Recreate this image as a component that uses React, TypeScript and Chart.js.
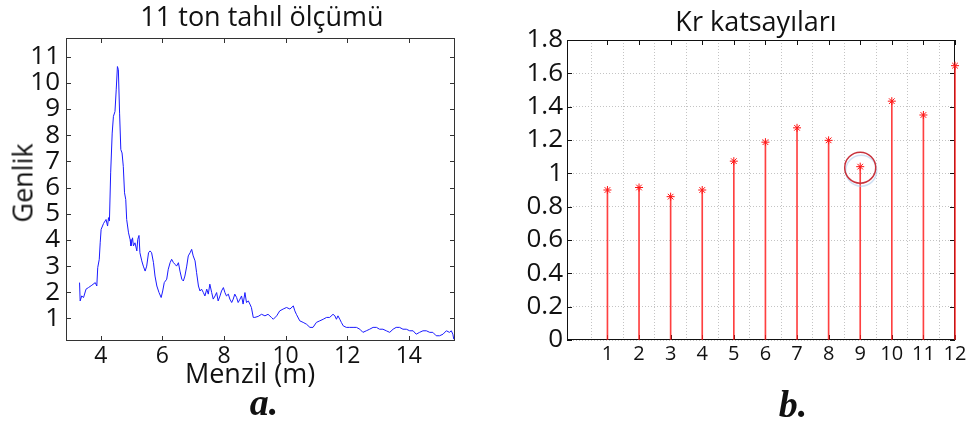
import React, { useEffect, useRef } from "react";
import { Chart, registerables } from "chart.js";

Chart.register(...registerables);

// ---------- Data: panel a (11 ton tahıl ölçümü) ----------
const distanceM = [
  3.31, 3.33, 3.38, 3.44, 3.52, 3.6, 3.71, 3.82, 3.87, 3.9, 3.95, 3.98, 4.01, 4.09, 4.17, 4.22, 4.25, 4.28,
  4.32, 4.37, 4.41, 4.46, 4.5, 4.54, 4.57, 4.61, 4.65, 4.69, 4.73, 4.77, 4.81, 4.84, 4.9, 4.95, 4.98, 5.03,
  5.06, 5.11, 5.17, 5.2, 5.24, 5.27, 5.33, 5.38, 5.44, 5.49, 5.55, 5.6, 5.65, 5.71, 5.76, 5.82, 5.89, 5.96,
  6.01, 6.06, 6.14, 6.19, 6.25, 6.3, 6.36, 6.41, 6.46, 6.52, 6.57, 6.63, 6.68, 6.73, 6.79, 6.84, 6.9, 6.95,
  7.0, 7.06, 7.11, 7.17, 7.22, 7.27, 7.33, 7.38, 7.44, 7.49, 7.54, 7.6, 7.65, 7.71, 7.76, 7.81, 7.87, 7.92,
  7.98, 8.03, 8.08, 8.14, 8.19, 8.25, 8.3, 8.35, 8.41, 8.46, 8.52, 8.57, 8.62, 8.68, 8.73, 8.79, 8.84, 8.89,
  8.95, 9.0, 9.11, 9.22, 9.33, 9.43, 9.54, 9.6, 9.71, 9.81, 9.92, 10.03, 10.14, 10.25, 10.3, 10.35, 10.46,
  10.57, 10.68, 10.79, 10.89, 11.0, 11.11, 11.22, 11.33, 11.43, 11.54, 11.6, 11.65, 11.7, 11.76, 11.81,
  11.87, 11.97, 12.08, 12.19, 12.3, 12.41, 12.51, 12.62, 12.73, 12.84, 12.95, 13.05, 13.16, 13.27, 13.38,
  13.49, 13.59, 13.7, 13.81, 13.92, 14.03, 14.14, 14.24, 14.35, 14.46, 14.57, 14.68, 14.78, 14.89, 15.0,
  15.11, 15.22, 15.32, 15.38, 15.43, 15.46,
];
const amplitude = [
  2.37, 1.67, 1.86, 1.8, 2.12, 2.18, 2.27, 2.37, 2.24, 2.94, 3.26, 3.89, 4.4, 4.63, 4.78, 4.53, 4.85, 4.72,
  6.56, 8.08, 8.72, 8.9, 9.73, 10.62, 10.5, 8.84, 7.45, 7.32, 6.81, 5.8, 5.54, 4.78, 4.27, 4.02, 3.77, 4.08,
  3.77, 3.89, 3.58, 4.02, 4.17, 3.51, 3.2, 3.0, 2.81, 3.0, 3.51, 3.58, 3.51, 3.13, 2.62, 2.24, 1.99, 1.8,
  2.05, 2.37, 2.5, 2.88, 3.13, 3.26, 3.13, 3.07, 3.0, 3.13, 2.81, 2.5, 2.43, 2.62, 3.0, 3.39, 3.51, 3.64,
  3.39, 3.2, 2.75, 2.24, 2.05, 2.12, 1.99, 1.86, 2.12, 1.93, 2.31, 1.99, 1.74, 1.86, 1.99, 1.67, 1.86, 2.05,
  2.18, 1.99, 1.86, 1.93, 1.74, 1.61, 1.74, 1.93, 1.8, 1.61, 1.74, 1.86, 1.55, 1.99, 1.61, 1.67, 1.55, 1.42,
  1.04, 1.04, 1.08, 1.16, 1.1, 1.16, 1.04, 0.97, 1.1, 1.29, 1.36, 1.42, 1.36, 1.48, 1.29, 1.16, 0.91,
  0.85, 0.78, 0.66, 0.66, 0.85, 0.91, 0.97, 1.04, 1.04, 1.16, 1.1, 0.97, 1.1, 0.97, 0.85,
  0.72, 0.66, 0.66, 0.66, 0.66, 0.59, 0.47, 0.53, 0.59, 0.66, 0.66, 0.59, 0.59, 0.53, 0.47,
  0.59, 0.66, 0.66, 0.59, 0.59, 0.53, 0.53, 0.4, 0.47, 0.53, 0.53, 0.47, 0.47, 0.34, 0.34,
  0.4, 0.53, 0.47, 0.53, 0.4, 0.21,
];
const leftXTicks = [4, 6, 8, 10, 12, 14];
const leftYTicks = [1, 2, 3, 4, 5, 6, 7, 8, 9, 10, 11];

// ---------- Data: panel b (Kr katsayıları) ----------
const stemIndex = [1, 2, 3, 4, 5, 6, 7, 8, 9, 10, 11, 12];
const krValues = [0.9, 0.915, 0.86, 0.9, 1.073, 1.187, 1.273, 1.198, 1.04, 1.433, 1.35, 1.646];
const rightXTicks = [1, 2, 3, 4, 5, 6, 7, 8, 9, 10, 11, 12];
const rightYTicks = [0, 0.2, 0.4, 0.6, 0.8, 1, 1.2, 1.4, 1.6, 1.8];
const highlightedIndex = 9;

const FONT = "'Open Sans', 'Noto Sans', sans-serif";

function framePlugin(color: string, len: number) {
  return {
    id: "frameTicks",
    beforeDatasetsDraw(chart: any) {
      const { ctx, chartArea } = chart;
      const { left, right, top, bottom } = chartArea;
      const xs = chart.scales.x;
      const ys = chart.scales.y;
      ctx.save();
      ctx.strokeStyle = color;
      ctx.lineWidth = 1;
      ctx.beginPath();
      xs.ticks.forEach((t: any) => {
        const px = Math.round(xs.getPixelForValue(t.value)) + 0.5;
        ctx.moveTo(px, bottom);
        ctx.lineTo(px, bottom - len);
        ctx.moveTo(px, top);
        ctx.lineTo(px, top + len);
      });
      ys.ticks.forEach((t: any) => {
        const py = Math.round(ys.getPixelForValue(t.value)) + 0.5;
        ctx.moveTo(left, py);
        ctx.lineTo(left + len, py);
        ctx.moveTo(right, py);
        ctx.lineTo(right - len, py);
      });
      ctx.stroke();
      const l = Math.round(left) + 0.5;
      const t = Math.round(top) + 0.5;
      const r = Math.round(right) - 0.5;
      const b = Math.round(bottom) - 0.5;
      ctx.strokeRect(l, t, r - l, b - t);
      ctx.restore();
    },
  };
}

const circlePlugin = {
  id: "circleMark",
  afterDatasetsDraw(chart: any) {
    const { ctx } = chart;
    const xs = chart.scales.x;
    const ys = chart.scales.y;
    const px = xs.getPixelForValue(highlightedIndex);
    const py = ys.getPixelForValue(krValues[highlightedIndex - 1]);
    ctx.save();
    ctx.lineWidth = 1.5;
    ctx.strokeStyle = "rgba(170,200,235,0.55)";
    ctx.beginPath();
    ctx.arc(px + 1, py + 4, 15.5, 0, Math.PI * 2);
    ctx.stroke();
    ctx.strokeStyle = "#c8323c";
    ctx.beginPath();
    ctx.arc(px, py + 1, 15.5, 0, Math.PI * 2);
    ctx.stroke();
    ctx.restore();
  },
};

function LeftChart() {
  const ref = useRef<HTMLCanvasElement | null>(null);
  useEffect(() => {
    if (!ref.current) return;
    const n = Math.min(distanceM.length, amplitude.length);
    const pts = [];
    for (let i = 0; i < n; i++) pts.push({ x: distanceM[i], y: amplitude[i] });
    const chart = new Chart(ref.current, {
      type: "line",
      data: {
        datasets: [
          {
            data: pts,
            borderColor: "#1a1aff",
            borderWidth: 1,
            pointRadius: 0,
            tension: 0,
          },
        ],
      },
      options: {
        animation: false,
        responsive: false,
        devicePixelRatio: 1,
        layout: { padding: { top: 38, right: 25, left: 0, bottom: 0 } },
        plugins: { legend: { display: false }, tooltip: { enabled: false }, title: { display: false } },
        scales: {
          x: {
            type: "linear",
            min: 2.87,
            max: 15.5,
            afterBuildTicks: (s: any) => {
              s.ticks = leftXTicks.map((v) => ({ value: v }));
            },
            afterFit: (s: any) => {
              s.height = 84;
            },
            grid: { display: false, drawTicks: false },
            border: { display: false },
            ticks: { padding: 2, color: "#111", font: { family: FONT, size: 23 }, maxRotation: 0, autoSkip: false },
          },
          y: {
            type: "linear",
            min: 0.14,
            max: 11.71,
            afterBuildTicks: (s: any) => {
              s.ticks = leftYTicks.map((v) => ({ value: v }));
            },
            afterFit: (s: any) => {
              s.width = 66;
            },
            grid: { display: false, drawTicks: false },
            border: { display: false },
            ticks: { padding: 6, color: "#111", font: { family: FONT, size: 26 }, autoSkip: false },
          },
        },
      },
      plugins: [framePlugin("#333", 5)],
    });
    return () => chart.destroy();
  }, []);
  return <canvas ref={ref} width={480} height={425} style={{ position: "absolute", left: 0, top: 0 }} />;
}

function RightChart() {
  const ref = useRef<HTMLCanvasElement | null>(null);
  useEffect(() => {
    if (!ref.current) return;
    const pts = stemIndex.map((k, i) => ({ x: k, y: krValues[i] }));
    const chart = new Chart(ref.current, {
      type: "bar",
      data: {
        datasets: [
          {
            type: "bar",
            data: pts,
            backgroundColor: "rgba(255,30,30,0.85)",
            barThickness: 1,
            borderWidth: 0,
            clip: 6,
          },
          {
            type: "line",
            data: pts,
            showLine: false,
            pointStyle: "star",
            pointRadius: 4,
            pointBorderWidth: 1,
            pointBorderColor: "#ff1010",
            pointBackgroundColor: "#ff1010",
            clip: 6,
          },
        ],
      },
      options: {
        animation: false,
        responsive: false,
        devicePixelRatio: 1,
        layout: { padding: { top: 40, right: 25, left: 0, bottom: 0 } },
        plugins: { legend: { display: false }, tooltip: { enabled: false }, title: { display: false } },
        scales: {
          x: {
            type: "linear",
            min: -0.28,
            max: 12,
            offset: false,
            afterBuildTicks: (s: any) => {
              s.ticks = rightXTicks.map((v) => ({ value: v }));
            },
            afterFit: (s: any) => {
              s.height = 85;
            },
            grid: { display: true, drawTicks: false, color: "#c4c4c4", lineWidth: 1 },
            border: { display: false, dash: [1, 2] },
            ticks: { padding: 2, color: "#111", font: { family: FONT, size: 20 }, maxRotation: 0, autoSkip: false },
          },
          y: {
            type: "linear",
            min: 0,
            max: 1.8,
            afterBuildTicks: (s: any) => {
              s.ticks = rightYTicks.map((v) => ({ value: v }));
            },
            afterFit: (s: any) => {
              s.width = 87;
            },
            grid: { display: true, drawTicks: false, color: "#c4c4c4", lineWidth: 1 },
            border: { display: false, dash: [1, 2] },
            ticks: {
              padding: 4,
              color: "#111",
              font: { family: FONT, size: 26 },
              autoSkip: false,
              callback: (v: any) => String(Math.round(Number(v) * 10) / 10),
            },
          },
        },
      },
      plugins: [framePlugin("#111", 5), circlePlugin],
    });
    return () => chart.destroy();
  }, []);
  return <canvas ref={ref} width={500} height={425} style={{ position: "absolute", left: 480, top: 0 }} />;
}

const textBase: React.CSSProperties = {
  position: "absolute",
  fontFamily: FONT,
  lineHeight: 1,
  whiteSpace: "nowrap",
  color: "#111",
};

export default function App() {
  return (
    <div style={{ position: "absolute", left: 0, top: 0, width: 980, height: 425, background: "#fff", overflow: "hidden" }}>
      <LeftChart />
      <RightChart />
      <div style={{ ...textBase, fontSize: 27, left: 262, top: 2, transform: "translateX(-50%)" }}>11 ton tahıl ölçümü</div>
      <div style={{ ...textBase, fontSize: 27, left: 250, top: 359, transform: "translateX(-50%)" }}>Menzil (m)</div>
      <div
        style={{
          ...textBase,
          fontSize: 27,
          left: 22,
          top: 183,
          transform: "translate(-50%, -50%) rotate(-90deg)",
        }}
      >
        Genlik
      </div>
      <div style={{ ...textBase, fontSize: 27, left: 756, top: 7, transform: "translateX(-50%)" }}>Kr katsayıları</div>
      <div
        style={{
          ...textBase,
          fontFamily: "'Liberation Serif', 'DejaVu Serif', serif",
          fontWeight: "bold",
          fontStyle: "italic",
          fontSize: 38,
          left: 264,
          top: 383,
          transform: "translateX(-50%)",
        }}
      >
        a.
      </div>
      <div
        style={{
          ...textBase,
          fontFamily: "'Liberation Serif', 'DejaVu Serif', serif",
          fontWeight: "bold",
          fontStyle: "italic",
          fontSize: 38,
          left: 793,
          top: 385,
          transform: "translateX(-50%)",
        }}
      >
        b.
      </div>
    </div>
  );
}
